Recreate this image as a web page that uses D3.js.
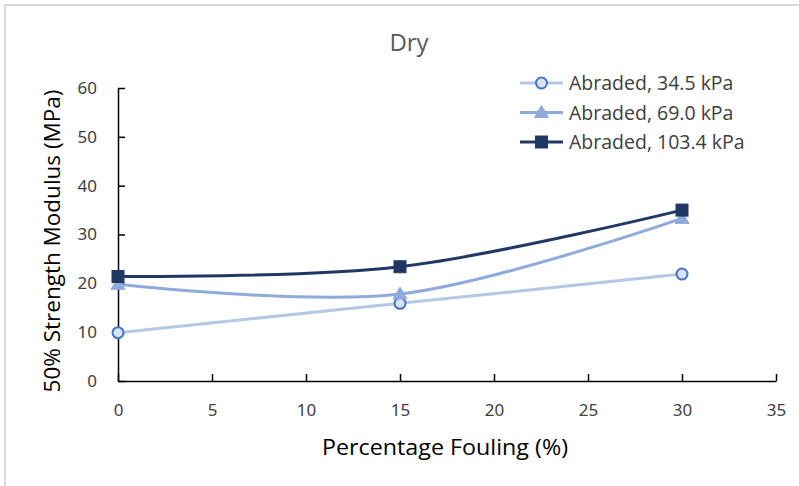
<!DOCTYPE html>
<html>
<head>
<meta charset="utf-8">
<script src="https://cdn.jsdelivr.net/npm/d3@7"></script>
<style>
  html, body { margin: 0; padding: 0; background: #fff; }
  svg { display: block; }
</style>
</head>
<body>
<svg id="chart" width="799" height="486"></svg>
<script>
// Percentage fouling (x) and 50% strength modulus (MPa) per abrasion load
const fouling = [0, 15, 30];
const seriesNames = ["Abraded, 34.5 kPa", "Abraded, 69.0 kPa", "Abraded, 103.4 kPa"];
const modulus345 = [9.9, 15.9, 21.9];
const modulus690 = [19.8, 17.8, 33.3];
const modulus1034 = [21.4, 23.4, 35.0];
const xTicks = [0, 5, 10, 15, 20, 25, 30, 35];
const yTicks = [0, 10, 20, 30, 40, 50, 60];

const series = [
  { name: seriesNames[0], values: modulus345, line: "#b4c7e7", marker: "circle", stroke: "#4472c4", fill: "#dae3f3" },
  { name: seriesNames[1], values: modulus690, line: "#8faadc", marker: "triangle", stroke: "#8faadc", fill: "#8faadc" },
  { name: seriesNames[2], values: modulus1034, line: "#203864", marker: "square", stroke: "#203864", fill: "#203864" }
];

const svg = d3.select("#chart");

// chart area frame
svg.append("path")
  .attr("d", "M5,486 L5,5 L799,5")
  .attr("fill", "none")
  .attr("stroke", "#d9d9d9")
  .attr("stroke-width", 2);

const x = d3.scaleLinear().domain([0, 35]).range([118, 776]);
const y = d3.scaleLinear().domain([0, 60]).range([381, 88]);

const tickFont = "'Noto Sans', 'Open Sans', sans-serif";
const textFont = "'Open Sans', 'Noto Sans', sans-serif";

// x axis
const xAxis = svg.append("g")
  .attr("transform", `translate(0,${y(0)})`)
  .call(d3.axisBottom(x).tickValues(xTicks).tickSize(-7).tickSizeOuter(0).tickPadding(23));
xAxis.select(".domain").attr("stroke", "#000").attr("stroke-width", 1.5);
xAxis.selectAll(".tick line").attr("stroke", "#000").attr("stroke-width", 1.5);
xAxis.selectAll(".tick text")
  .attr("font-family", tickFont).attr("font-size", 17).attr("fill", "#404040");

// y axis
const yAxis = svg.append("g")
  .attr("transform", `translate(${x(0)},0)`)
  .call(d3.axisLeft(y).tickValues(yTicks).tickSize(-7).tickSizeOuter(0).tickPadding(21));
yAxis.select(".domain").attr("stroke", "#000").attr("stroke-width", 1.5);
yAxis.selectAll(".tick line").attr("stroke", "#000").attr("stroke-width", 1.5);
yAxis.selectAll(".tick text")
  .attr("font-family", tickFont).attr("font-size", 17).attr("fill", "#404040");

// axis titles
svg.append("text")
  .attr("x", 445).attr("y", 455)
  .attr("text-anchor", "middle")
  .attr("font-family", textFont).attr("font-size", 22).attr("fill", "#000")
  .attr("textLength", 246).attr("lengthAdjust", "spacingAndGlyphs")
  .text("Percentage Fouling (%)");

svg.append("text")
  .attr("transform", `translate(60,241) rotate(-90)`)
  .attr("text-anchor", "middle")
  .attr("font-family", textFont).attr("font-size", 22.5).attr("fill", "#000")
  .text("50% Strength Modulus (MPa)");

// title
svg.append("text")
  .attr("x", 409).attr("y", 51)
  .attr("text-anchor", "middle")
  .attr("font-family", textFont).attr("font-size", 24).attr("fill", "#595959")
  .text("Dry");

// smoothed series lines
const line = d3.line()
  .x((d, i) => x(fouling[i]))
  .y(d => y(d))
  .curve(d3.curveCardinal.tension(0));

function drawMarker(g, type, cx, cy, s) {
  if (type === "circle") {
    g.append("circle").attr("cx", cx).attr("cy", cy).attr("r", 5.5)
      .attr("fill", s.fill).attr("stroke", s.stroke).attr("stroke-width", 2);
  } else if (type === "triangle") {
    g.append("path")
      .attr("d", `M${cx},${cy - 7} L${cx + 7},${cy + 5} L${cx - 7},${cy + 5} Z`)
      .attr("fill", s.fill).attr("stroke", s.stroke).attr("stroke-width", 1);
  } else {
    g.append("rect").attr("x", cx - 6).attr("y", cy - 6).attr("width", 12).attr("height", 12)
      .attr("fill", s.fill).attr("stroke", s.stroke).attr("stroke-width", 1);
  }
}

series.forEach(s => {
  const g = svg.append("g");
  g.append("path")
    .attr("d", line(s.values))
    .attr("fill", "none")
    .attr("stroke", s.line)
    .attr("stroke-width", 3);
  s.values.forEach((v, i) => drawMarker(g, s.marker, x(fouling[i]), y(v), s));
});

// legend
const legend = svg.append("g");
series.forEach((s, i) => {
  const ly = 83 + i * 29.5;
  const g = legend.append("g");
  g.append("line").attr("x1", 520).attr("x2", 563).attr("y1", ly).attr("y2", ly)
    .attr("stroke", s.line).attr("stroke-width", 3);
  drawMarker(g, s.marker, 541.5, ly, s);
  g.append("text")
    .attr("x", 569).attr("y", ly + 7)
    .attr("font-family", textFont).attr("font-size", 19.5).attr("fill", "#404040")
    .text(s.name);
});
</script>
</body>
</html>
